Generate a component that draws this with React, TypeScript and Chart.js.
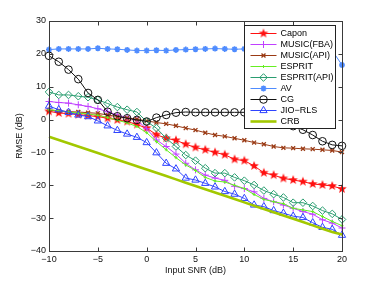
import React, { useEffect, useRef } from "react";
import { Chart, registerables } from "chart.js";
import { drawPoint } from "chart.js/helpers";

Chart.register(...registerables);

const snr = [-10, -9, -8, -7, -6, -5, -4, -3, -2, -1, 0, 1, 2, 3, 4, 5, 6, 7, 8, 9, 10, 11, 12, 13, 14, 15, 16, 17, 18, 19, 20];

const capon = [2.5, 2.0, 1.8, 1.5, 1.2, 0.9, 0.4, -0.1, -0.6, -1.5, -2.6, -4.6, -5.7, -6.3, -7.5, -8.5, -9.2, -10.0, -10.7, -12.1, -12.5, -14.1, -16.2, -16.9, -17.9, -18.4, -18.9, -19.6, -19.9, -20.2, -21.1];
const musicFba = [5.5, 5.2, 5.0, 4.5, 4.0, 3.3, 2.4, 1.4, 0.6, -0.2, -2.8, -6.2, -8.2, -10.5, -13.3, -15.3, -16.9, -17.8, -18.5, -20.3, -21.0, -22.0, -24.0, -25.0, -26.0, -27.0, -28.0, -28.8, -30.5, -31.5, -33.0];
const musicApi = [2.8, 2.6, 2.4, 2.3, 2.1, 1.9, 1.4, 0.9, 0.5, 0.1, -0.4, -0.9, -1.3, -1.9, -2.6, -3.2, -4.0, -4.7, -5.1, -5.7, -6.3, -7.0, -7.5, -8.2, -8.6, -8.7, -8.9, -9.0, -9.2, -9.4, -9.9];
const esprit = [3.0, 2.7, 2.3, 2.0, 1.7, 1.3, 0.6, -0.2, -1.0, -2.1, -4.0, -6.7, -9.2, -11.6, -13.8, -15.5, -17.6, -18.7, -19.0, -20.0, -21.0, -22.8, -24.3, -25.0, -25.6, -27.0, -27.5, -28.0, -29.5, -31.0, -32.3];
const espritApi = [8.4, 7.5, 7.5, 7.1, 6.8, 6.0, 4.9, 3.8, 3.0, 2.3, -0.6, -2.6, -5.7, -8.2, -10.8, -12.5, -14.8, -16.3, -16.3, -17.6, -18.6, -19.9, -21.6, -22.7, -23.7, -25.3, -25.3, -26.3, -27.7, -28.7, -30.4];
const av = [21.3, 21.5, 21.5, 21.5, 21.5, 21.7, 21.5, 21.4, 21.2, 21.0, 21.0, 21.1, 21.0, 21.2, 21.3, 21.4, 21.5, 21.6, 21.5, 21.4, 21.5, 21.4, 21.4, 21.4, 21.4, 21.3, 21.3, 21.3, 21.2, 21.0, 16.6];
const cg = [19.4, 17.6, 15.2, 12.3, 8.1, 6.0, 2.4, 1.0, 0.4, -0.1, -0.6, 0.6, 1.4, 2.1, 2.3, 2.2, 2.2, 2.2, 2.2, 2.2, 2.2, 2.0, 1.8, 1.0, -0.3, -2.0, -3.1, -4.7, -6.6, -7.7, -8.0];
const jioRls = [4.1, 3.0, 2.2, 1.4, 0.9, -0.4, -1.9, -3.3, -4.4, -5.4, -7.0, -10.1, -13.3, -15.0, -17.8, -18.4, -19.4, -20.5, -21.9, -22.7, -24.0, -26.0, -26.5, -27.7, -28.5, -29.4, -29.8, -31.4, -32.8, -33.4, -35.2];
const crb = [-5.2, -6.2, -7.2, -8.2, -9.2, -10.2, -11.2, -12.2, -13.2, -14.2, -15.2, -16.2, -17.2, -18.2, -19.2, -20.2, -21.2, -22.2, -23.2, -24.2, -25.2, -26.2, -27.2, -28.2, -29.2, -30.2, -31.2, -32.2, -33.2, -34.2, -35.0];

const seriesNames = ["Capon", "MUSIC(FBA)", "MUSIC(API)", "ESPRIT", "ESPRIT(API)", "AV", "CG", "JIO\u2212RLS", "CRB"];
const xTicks = [-10, -5, 0, 5, 10, 15, 20];
const yTicks = [-40, -30, -20, -10, 0, 10, 20, 30];

const FONT = "'Liberation Sans', Arial, sans-serif";

function makeStar(color: string, r: number) {
  const size = Math.ceil(r * 2 + 2);
  const c = document.createElement("canvas");
  c.width = size;
  c.height = size;
  const g = c.getContext("2d")!;
  const cx = size / 2, cy = size / 2;
  g.beginPath();
  for (let i = 0; i < 10; i++) {
    const rad = i % 2 === 0 ? r : r * 0.42;
    const a = -Math.PI / 2 + (i * Math.PI) / 5;
    const px = cx + rad * Math.cos(a), py = cy + rad * Math.sin(a);
    if (i === 0) g.moveTo(px, py); else g.lineTo(px, py);
  }
  g.closePath();
  g.fillStyle = color;
  g.fill();
  return c;
}

export default function App() {
  const ref = useRef<HTMLCanvasElement | null>(null);
  useEffect(() => {
    document.body.style.margin = "0";
    const star = makeStar("#ff1010", 5);
    const pts = (arr: number[]) => snr.map((x, i) => ({ x, y: arr[i] }));
    const base = { showLine: true, fill: false, tension: 0, clip: false as any, borderWidth: 1 };
    const defs: any[] = [
      { data: capon, color: "#ff1010", pointStyle: star, radius: 5, pbw: 1, bg: "#ff1010" },
      { data: musicFba, color: "#c040ff", pointStyle: "cross", radius: 3.5, pbw: 1, bg: "transparent" },
      { data: musicApi, color: "#9a3a14", pointStyle: "crossRot", radius: 2.8, pbw: 1.3, bg: "transparent" },
      { data: esprit, color: "#66ee22", pointStyle: "cross", radius: 1.5, pbw: 1, bg: "transparent" },
      { data: espritApi, color: "#2a9d70", pointStyle: "rectRot", radius: 3.8, pbw: 1, bg: "transparent" },
      { data: av, color: "#4f8cff", pointStyle: "star", radius: 3, pbw: 1.6, bg: "#4f8cff" },
      { data: cg, color: "#111111", pointStyle: "circle", radius: 3.8, pbw: 1, bg: "transparent" },
      { data: jioRls, color: "#2f44ff", pointStyle: "triangle", radius: 4.2, pbw: 1, bg: "transparent" },
      { data: crb, color: "#a2c800", pointStyle: false, radius: 0, pbw: 0, bg: "transparent", lw: 2.6 },
    ];
    const datasets = defs.map((d, i) => ({
      ...base,
      label: seriesNames[i],
      data: pts(d.data),
      borderColor: d.color,
      backgroundColor: d.bg,
      pointStyle: d.pointStyle,
      pointRadius: d.radius,
      pointBorderWidth: d.pbw,
      pointBorderColor: d.color,
      pointBackgroundColor: d.bg,
      borderWidth: d.lw || 1,
      order: 8 - i,
    }));

    const boxPlugin = {
      id: "matlabBox",
      afterDatasetsDraw(chart: any) {
        const { ctx, chartArea: a, scales } = chart;
        ctx.save();
        ctx.strokeStyle = "#3a3a3a";
        ctx.lineWidth = 1;
        const L = Math.round(a.left) + 0.5, R = Math.round(a.right) + 0.5;
        const T = Math.round(a.top) + 0.5, B = Math.round(a.bottom) + 0.5;
        ctx.strokeRect(L, T, R - L, B - T);
        ctx.beginPath();
        xTicks.forEach((v) => {
          const px = Math.round(scales.x.getPixelForValue(v)) + 0.5;
          ctx.moveTo(px, B); ctx.lineTo(px, B - 4);
          ctx.moveTo(px, T); ctx.lineTo(px, T + 4);
        });
        yTicks.forEach((v) => {
          const py = Math.round(scales.y.getPixelForValue(v)) + 0.5;
          ctx.moveTo(L, py); ctx.lineTo(L + 4, py);
          ctx.moveTo(R, py); ctx.lineTo(R - 4, py);
        });
        ctx.stroke();

        // legend
        const lx1 = Math.round(a.right) - 6.5, ly0 = Math.round(a.top) + 4.5;
        const lx0 = lx1 - 91, ly1 = ly0 + 103;
        ctx.fillStyle = "#ffffff";
        ctx.fillRect(lx0, ly0, lx1 - lx0, ly1 - ly0);
        ctx.strokeStyle = "#222";
        ctx.strokeRect(lx0, ly0, lx1 - lx0, ly1 - ly0);
        ctx.font = `9px ${FONT}`;
        ctx.textBaseline = "middle";
        ctx.textAlign = "left";
        defs.forEach((d, i) => {
          const y = ly0 + 8 + i * 11;
          const sx0 = lx0 + 6, sx1 = lx0 + 32;
          ctx.strokeStyle = d.color;
          ctx.lineWidth = d.lw || 1;
          ctx.beginPath();
          ctx.moveTo(sx0, y); ctx.lineTo(sx1, y);
          ctx.stroke();
          if (d.pointStyle) {
            ctx.strokeStyle = d.color;
            ctx.fillStyle = d.bg;
            ctx.lineWidth = d.pbw;
            drawPoint(ctx, { pointStyle: d.pointStyle, radius: d.radius, rotation: 0, borderWidth: d.pbw }, (sx0 + sx1) / 2, y);
          }
          ctx.fillStyle = "#000";
          ctx.fillText(seriesNames[i], lx0 + 36, y + 0.5);
        });
        ctx.restore();
      },
    };

    const chart = new Chart(ref.current!, {
      type: "line",
      data: { datasets },
      plugins: [boxPlugin],
      options: {
        animation: false,
        responsive: false,
        maintainAspectRatio: false,
        layout: { padding: { left: 0, right: 35, top: 21, bottom: 0 } },
        plugins: { legend: { display: false }, tooltip: { enabled: false } },
        scales: {
          x: {
            type: "linear",
            min: -10,
            max: 20,
            afterBuildTicks: (s: any) => { s.ticks = xTicks.map((v) => ({ value: v })); },
            afterFit: (s: any) => { s.height = 32; },
            grid: { display: false, drawTicks: false },
            border: { display: false },
            ticks: {
              padding: 3,
              color: "#111",
              font: { family: FONT, size: 9 },
              callback: (v: any) => String(v).replace("-", "\u2212"),
            },
            title: { display: true, text: "Input SNR (dB)", color: "#111", font: { family: FONT, size: 9 }, padding: { top: 0, bottom: 7.5 } },
          },
          y: {
            type: "linear",
            min: -40,
            max: 30,
            afterBuildTicks: (s: any) => { s.ticks = yTicks.map((v) => ({ value: v })); },
            afterFit: (s: any) => { s.width = 49; },
            grid: { display: false, drawTicks: false },
            border: { display: false },
            ticks: {
              padding: 3,
              color: "#111",
              font: { family: FONT, size: 9 },
              callback: (v: any) => String(v).replace("-", "\u2212"),
            },
            title: { display: true, text: "RMSE (dB)", color: "#111", font: { family: FONT, size: 9 }, padding: { top: 14.5, bottom: 0 } },
          },
        },
      } as any,
    });
    return () => chart.destroy();
  }, []);
  return (
    <div style={{ width: 377, height: 283, background: "#fff" }}>
      <canvas ref={ref} width={377} height={283} style={{ display: "block" }} />
    </div>
  );
}
